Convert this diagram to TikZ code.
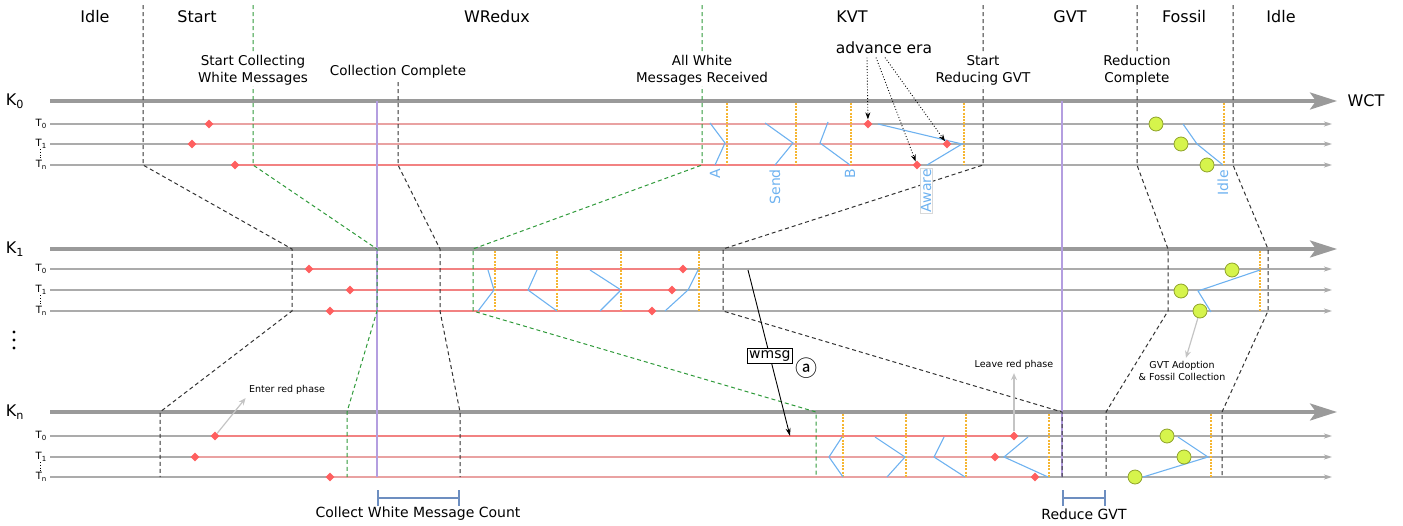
\documentclass[tikz,border=0pt]{standalone}
\usepackage{fontspec}
\setmainfont{DejaVu Sans}
\newfontfamily\cjk{Noto Sans CJK SC}
\usetikzlibrary{arrows.meta}
\usetikzlibrary{shapes.geometric}

\definecolor{kgray}{HTML}{9A9A9A}
\definecolor{tgray}{HTML}{ABABAB}
\definecolor{redrun}{HTML}{F28282}
\definecolor{redpale}{HTML}{E9A2A2}
\definecolor{redmark}{HTML}{FF5F5F}
\definecolor{eraorange}{HTML}{F6B632}
\definecolor{zigblue}{HTML}{6EB2F0}
\definecolor{gvtpurple}{HTML}{B49EE0}
\definecolor{wgreen}{HTML}{2F9A3A}
\definecolor{spanblue}{HTML}{6D8EC0}
\definecolor{fossilfill}{HTML}{D6F44C}
\definecolor{fossilline}{HTML}{8FA32A}
\definecolor{notegray}{HTML}{C4C4C4}

\tikzset{
  klane/.style={draw=kgray, line width=3.5pt, -{Stealth[length=27pt,width=17pt,inset=6pt]}},
  tlane/.style={draw=tgray, line width=1.2pt, -{Stealth[length=8pt,width=5pt,inset=2pt]}},
  redlane/.style={draw=redrun, line width=1.2pt},
  redpt/.style={diamond, fill=redmark, inner sep=0pt, minimum size=9pt},
  fossilpt/.style={circle, fill=fossilfill, draw=fossilline, line width=0.8pt, inner sep=0pt, minimum size=14pt},
  erabar/.style={draw=eraorange, line width=2.4pt, dash pattern=on 2pt off 1.2pt},
  zig/.style={draw=zigblue, line width=1.1pt},
  ziglabel/.style={text=zigblue, rotate=90, anchor=east, font=\fontsize{14}{15}\selectfont, inner sep=1pt},
  phase/.style={draw=black!80, line width=1pt, dash pattern=on 4pt off 3pt},
  wphase/.style={phase, draw=wgreen},
  gvtbar/.style={draw=gvtpurple, line width=2.6pt},
  spanbar/.style={draw=spanblue, line width=2pt, {Bar[width=16pt]}-{Bar[width=16pt]}},
  phasename/.style={font=\fontsize{16}{19}\selectfont},
  event/.style={font=\fontsize{13.5}{17}\selectfont, align=center, fill=white, inner sep=1pt},
  note/.style={font=\fontsize{9.5}{12}\selectfont, align=center},
  notearrow/.style={draw=notegray, line width=1.2pt, -{Stealth[length=7pt,width=6pt]}},
}

\begin{document}
\begin{tikzpicture}[x=1pt,y=-1pt]
\useasboundingbox (0,0) rectangle (1403,525);

% phase names
\node[phasename] (idleA) at (95,17) {Idle};
\node[phasename] (start) at (197,17) {Start};
\node[phasename] (wredux) at (497,17) {WRedux};
\node[phasename] (kvt) at (852,17) {KVT};
\node[phasename] (gvt) at (1070,17) {GVT};
\node[phasename] (fossil) at (1184,17) {Fossil};
\node[phasename] (idleB) at (1281,17) {Idle};
\node[phasename] (wct) at (1366,101) {WCT};

% kernels and threads
\foreach \k/\y in {0/101,1/249,n/412}{
  \node[font=\fontsize{16}{19}\selectfont] (k\k) at (15,\y) {K\textsubscript{\k}};
  \draw[klane] (50,\y) -- (1337,\y);
}
\foreach \y/\t in {124/0,144/1,165/n,269/0,290/1,311/n,436/0,457/1,477/n}{
  \node[font=\fontsize{10}{12}\selectfont, anchor=east, inner sep=1pt] (t\y) at (48,\y) {T\textsubscript{\t}};
  \draw[tlane] (50,\y) -- (1332,\y);
}
\foreach \y in {144,290,457}
  \draw[dotted, line width=0.8pt] (40,\y+5) -- (40,\y+14);
\foreach \y in {332,340,348}
  \fill (14,\y) circle (1.7);

% red phases
\foreach \y/\xa/\xb/\c in {124/209/868/redpale,144/192/947/redpale,165/235/917/redrun,269/309/683/redrun,290/350/672/redrun,311/330/652/redrun,436/215/1014/redrun,457/195/995/redpale,477/330/1035/redpale}
  \draw[redlane, draw=\c] (\xa,\y) -- (\xb,\y);

% GVT bars
\draw[gvtbar] (377,101) -- (377,477);
\draw[gvtbar] (1062,101) -- (1062,477);

% era boundaries
\foreach \x in {727,796,851,964,1224} \draw[erabar] (\x,103) -- (\x,165);
\foreach \x in {495,557,621,699,1260} \draw[erabar] (\x,251) -- (\x,311);
\foreach \x in {843,906,966,1049,1211} \draw[erabar] (\x,414) -- (\x,477);

% zigzags
\foreach \xa/\ya/\xb/\yb/\xc/\yc in {
    710/123/725/143/715/165, 765/123/793/143/775/165, 828/122/820/143/850/165,
    878/124/962/144/927/165, 1183/124/1197/144/1223/165,
    488/270/494/290/478/311, 537/270/528/290/557/311, 590/270/621/290/600/311,
    698/270/688/290/665/311, 1260/270/1198/291/1211/312,
    842/437/829/457/843/477, 875/437/905/457/887/477, 944/437/934/457/965/477,
    1028/437/1004/457/1048/477, 1178/437/1208/457/1143/477}
  \draw[zig] (\xa,\ya) -- (\xb,\yb) -- (\xc,\yc);

% phase boundaries
\draw[phase] (143,5) -- (143,165) -- (292,249) -- (292,311) -- (160,412) -- (160,477);
\draw[wphase] (253,5) -- (253,165) -- (377,249) -- (377,311) -- (347,412) -- (347,477);
\draw[phase] (398,82) -- (398,165) -- (440,249) -- (440,311) -- (460,412) -- (460,477);
\draw[wphase] (702,5) -- (702,165) -- (473,249) -- (473,311) -- (816,412) -- (816,477);
\draw[phase] (983,5) -- (983,165) -- (723,249) -- (723,311) -- (1062,412) -- (1062,477);
\draw[phase] (1137,5) -- (1137,165) -- (1168,249) -- (1168,311) -- (1106,412) -- (1106,477);
\draw[phase] (1233,5) -- (1233,165) -- (1268,249) -- (1268,311) -- (1222,412) -- (1222,477);

\node[ziglabel] (zA) at (715,168) {A};
\node[ziglabel] (zSend) at (775,168) {Send};
\node[ziglabel] (zB) at (850,168) {B};
\node[ziglabel, fill=white, draw=black!15] (zAware) at (926,168) {Aware};
\node[ziglabel] (zIdle) at (1223,169) {Idle};

% red phase marks
\foreach \y/\xa/\xb [count=\i] in {124/209/868,144/192/947,165/235/917,269/309/683,290/350/672,311/330/652,436/215/1014,457/195/995,477/330/1035}{
  \node[redpt] (in\i) at (\xa,\y) {};
  \node[redpt] (out\i) at (\xb,\y) {};
}

% fossil collection
\foreach \x/\y [count=\i] in {1156/124,1181/144,1207/165,1232/270,1181/291,1200/311,1167/436,1184/457,1135/477}
  \node[fossilpt] (fos\i) at (\x,\y) {};

% events
\node[event] (startcol) at (253,70) {Start Collecting\\White Messages};
\node[event] (colcomp) at (398,72) {Collection Complete};
\node[event] (allwhite) at (702,70) {All White\\Messages Received};
\node[event] (startred) at (983,70) {Start\\Reducing GVT};
\node[event] (redcomp) at (1137,70) {Reduction\\Complete};
\node[font=\fontsize{15.5}{18}\selectfont] (era) at (884,48) {advance era};

\draw[dotted, line width=0.9pt, -{Stealth[length=7pt,width=5pt]}] ([xshift=-17pt]era.south) -- (out1);
\draw[dotted, line width=0.9pt, -{Stealth[length=7pt,width=5pt]}] ([xshift=-8pt]era.south) -- (out3);
\draw[dotted, line width=0.9pt, -{Stealth[length=7pt,width=5pt]}] ([xshift=1pt]era.south) -- (out2);

% notes
\node[note] (enterlbl) at (287,390) {Enter red phase};
\draw[notearrow] (in7) -- (enterlbl.south west);
\node[note] (leavelbl) at (1014,365) {Leave red phase};
\draw[notearrow] (out7) -- (leavelbl.south);
\node[note] (adoptlbl) at (1182,371) {GVT Adoption\\\& Fossil Collection};
\draw[notearrow] (fos6) -- ([xshift=4pt]adoptlbl.north);

% white message
\coordinate (wsend) at (748,270);
\coordinate (wrecv) at (790,436);
\draw[line width=0.9pt, -{Stealth[length=8pt,width=5pt]}] (wsend) -- node[pos=0.52, draw, fill=white, inner sep=2pt, font=\fontsize{14}{16}\selectfont] (wmsg) {wmsg} (wrecv);
\node[font=\cjk\fontsize{22}{24}\selectfont] (wmark) at (806,368) {ⓐ};

% spans
\draw[spanbar] (377,498) -- (460,498);
\node[font=\fontsize{14}{16}\selectfont] (collectlbl) at (418,514) {Collect White Message Count};
\draw[spanbar] (1062,498) -- (1106,498);
\node[font=\fontsize{14}{16}\selectfont] (reducelbl) at (1084,514) {Reduce GVT};
\end{tikzpicture}
\end{document}
